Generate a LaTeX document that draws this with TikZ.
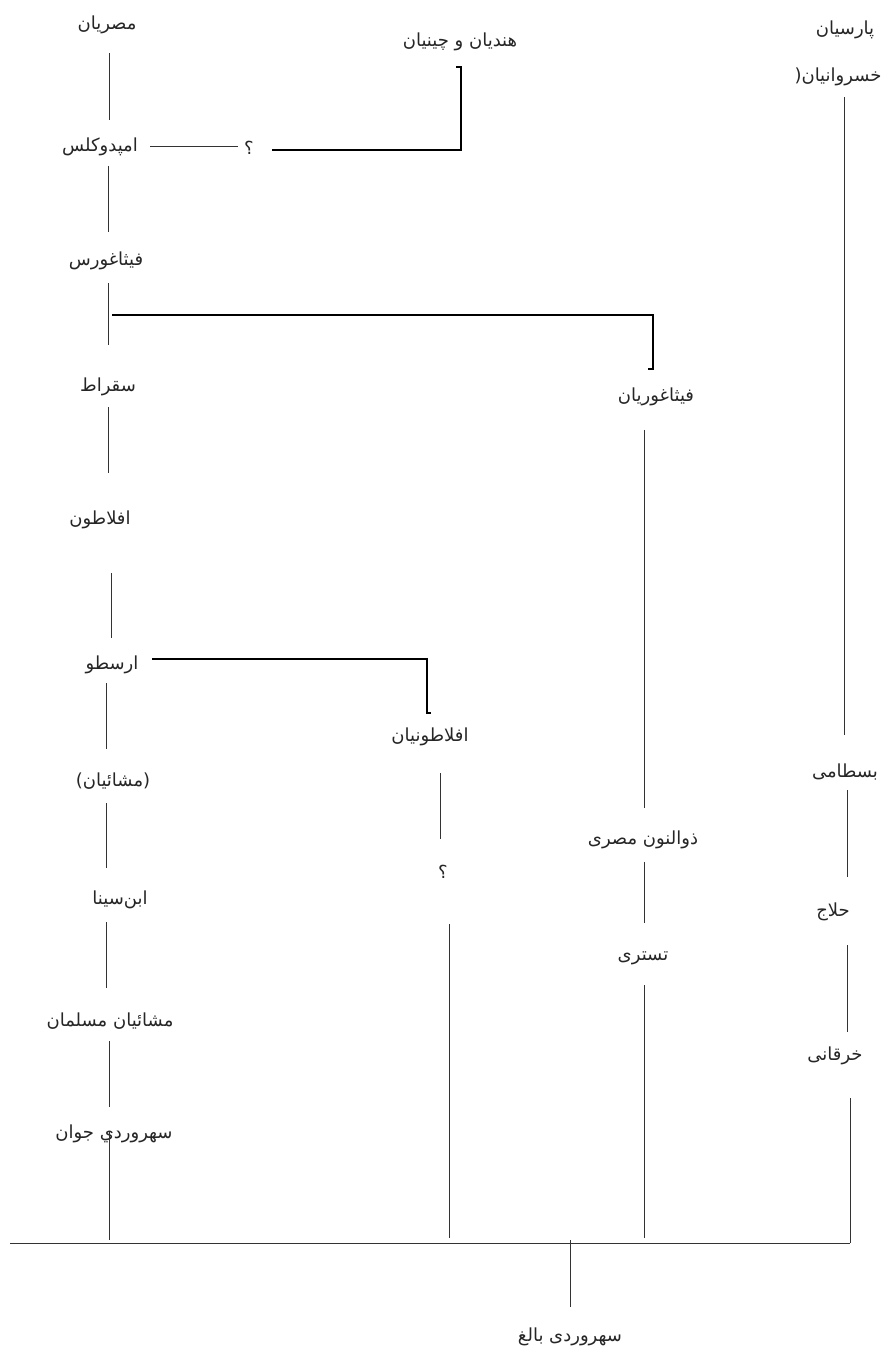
\documentclass[tikz,border=0pt]{standalone}
\usepackage{fontspec}
\newfontfamily\arabicfont[Script=Arabic]{DejaVu Sans}
\TeXXeTstate=1
\newcommand\fatext[1]{\beginR #1\endR}
\begin{document}
\begin{tikzpicture}[x=1pt,y=-1pt,
  lbl/.style={font=\arabicfont\fontsize{18}{21}\selectfont, inner sep=0pt, text=black!85},
  conn/.style={line width=0.9pt, draw=black!80},
  brk/.style={line width=1.5pt, draw=black}]
\useasboundingbox[fill=white] (0,0) rectangle (888,1357);

% nodes
\node[lbl] (misr)   at (107,25)  {\fatext{مصریان}};
\node[lbl] (hind)   at (460,42)  {\fatext{هندیان و چینیان}};
\node[lbl] (pars)   at (845,30)  {\fatext{پارسیان}};
\node[lbl] (khos)   at (838,77)  {\fatext{خسروانیان(}};
\node[lbl] (emped)  at (100,147) {\fatext{امپدوکلس}};
\node[lbl] (qa)     at (249,148) {\fatext{؟}};
\node[lbl] (fith)   at (106,261) {\fatext{فیثاغورس}};
\node[lbl] (soqrat) at (108,387) {\fatext{سقراط}};
\node[lbl] (fithy)  at (656,397) {\fatext{فیثاغوریان}};
\node[lbl] (aflat)  at (100,520) {\fatext{افلاطون}};
\node[lbl] (arastu) at (112,665) {\fatext{ارسطو}};
\node[lbl] (aflaty) at (430,737) {\fatext{افلاطونیان}};
\node[lbl] (mash)   at (113,781) {\fatext{(مشائیان)}};
\node[lbl] (bast)   at (845,772) {\fatext{بسطامی}};
\node[lbl] (dhun)   at (643,840) {\fatext{ذوالنون مصری}};
\node[lbl] (qb)     at (443,872) {\fatext{؟}};
\node[lbl] (sina)   at (120,900) {\fatext{ابن‌سینا}};
\node[lbl] (hallaj) at (833,912) {\fatext{حلاج}};
\node[lbl] (tost)   at (643,958) {\fatext{تستری}};
\node[lbl] (mmus)   at (110,1021){\fatext{مشائیان مسلمان}};
\node[lbl] (khar)   at (835,1056){\fatext{خرقانی}};
\node[lbl] (sjav)   at (114,1134){\fatext{سهروردي جوان}};
\node[lbl] (sbal)   at (570,1337){\fatext{سهروردی بالغ}};

% left column
\draw[conn] (109,53) -- (109,120);
\draw[conn] (108,166) -- (108,232);
\draw[conn] (108,283) -- (108,345);
\draw[conn] (108,407) -- (108,473);
\draw[conn] (111,573) -- (111,638);
\draw[conn] (106,683) -- (106,749);
\draw[conn] (106,803) -- (106,868);
\draw[conn] (106,922) -- (106,988);
\draw[conn] (109,1041) -- (109,1107);
\draw[conn] (109,1132) -- (109,1240);

% Empedocles / India-China
\draw[conn] (150,146) -- (238,146);
\draw[brk] (272,150) -- (461,150) -- (461,67) -- (456,67);

% Pythagoras bracket
\draw[brk] (112,315) -- (653,315) -- (653,369) -- (648,369);
% Aristotle bracket
\draw[brk] (152,659) -- (427,659) -- (427,713) -- (431,713);

% Platonists column
\draw[conn] (440,773) -- (440,839);
\draw[conn] (449,924) -- (449,1238);

% Pythagoreans column
\draw[conn] (644,430) -- (644,808);
\draw[conn] (644,862) -- (644,923);
\draw[conn] (644,985) -- (644,1238);

% Persian column
\draw[conn] (844,97) -- (844,735);
\draw[conn] (847,790) -- (847,877);
\draw[conn] (847,945) -- (847,1032);
\draw[conn] (850,1098) -- (850,1243);

% bottom
\draw[conn] (10,1243) -- (850,1243);
\draw[conn] (570,1240) -- (570,1307);
\end{tikzpicture}
\end{document}
